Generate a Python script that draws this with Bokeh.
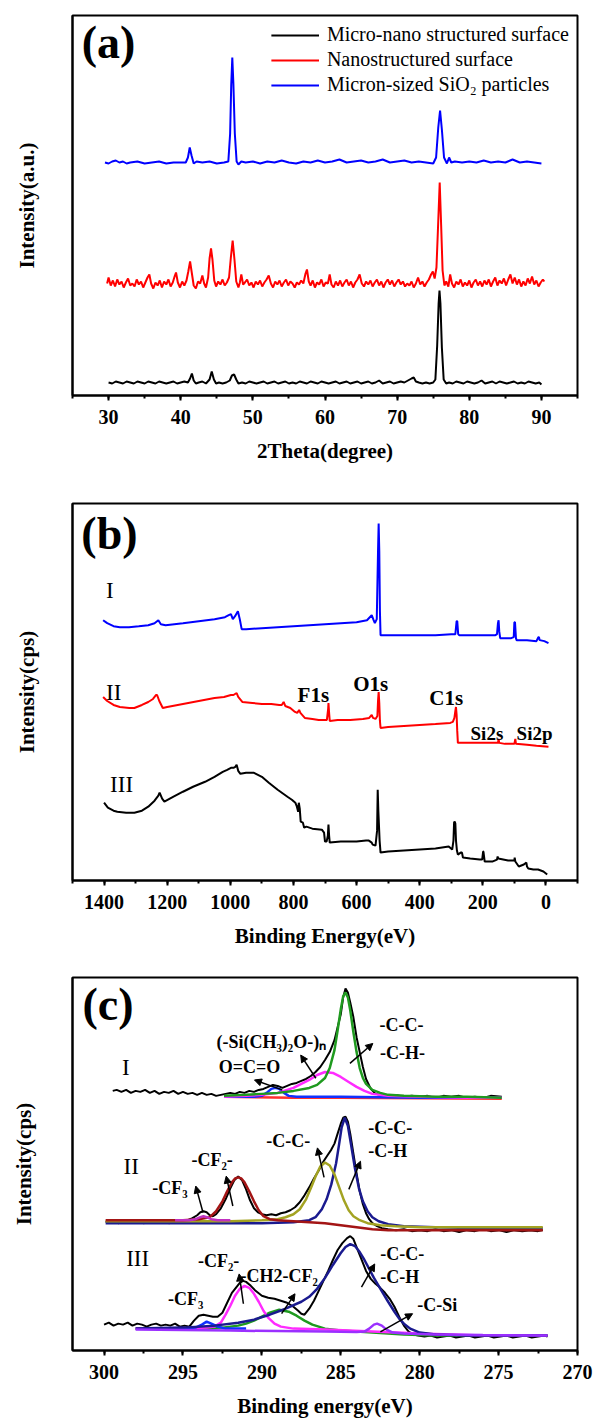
from bokeh.plotting import figure
from bokeh.layouts import column
from bokeh.models import Range1d, SingleIntervalTicker, FixedTicker, Label, Arrow, NormalHead
from bokeh.embed import file_html
from bokeh.resources import INLINE

FONT = "Liberation Serif"
AXFONT = "'Liberation Serif'"

# ---------------- Panel (a): XRD ----------------
a_series_names = ["Micro-nano structured surface", "Nanostructured surface", "Micron-sized SiO\u2082 particles"]

a_black = [(30.0,13),(30.5,12),(31.0,14),(31.5,13),(32.0,12),(32.5,14),(33.0,13),(33.5,12),(34.0,14),(34.5,13),(35.0,12),(35.5,14),(36.0,13),(36.5,12),(37.0,14),(37.5,13),(38.0,12),(38.5,13),(39.0,14),(39.5,12),(40.0,13),(40.5,14),(41.0,13),(41.3,17),(41.55,22),(41.8,15),(42.1,12),(42.5,13),(43.0,14),(43.5,12),(44.0,16),(44.3,24),(44.6,16),(44.9,12),(45.3,13),(45.8,12),(46.3,13),(46.8,15),(47.1,20),(47.4,21),(47.7,16),(48.0,12),(48.5,13),(49.0,12),(49.5,14),(50.0,13),(50.5,12),(51.0,13),(51.5,14),(52.0,12),(52.5,13),(53.0,14),(53.5,12),(54.0,13),(54.5,14),(55.0,12),(55.5,13),(56.0,12),(56.5,14),(57.0,13),(57.5,12),(58.0,14),(58.5,13),(59.0,12),(59.5,14),(60.0,13),(60.5,12),(61.0,13),(61.5,14),(62.0,12),(62.5,13),(63.0,14),(63.5,12),(64.0,13),(64.5,14),(65.0,12),(65.5,13),(66.0,14),(66.5,12),(67.0,13),(67.5,15),(68.0,12),(68.5,13),(69.0,14),(69.5,12),(70.0,13),(70.5,14),(71.0,13),(71.5,15),(72.0,17),(72.3,18),(72.6,14),(73.0,13),(73.5,12),(74.0,13),(74.5,12),(75.0,13),(75.3,16),(75.55,50),(75.75,92),(75.87,105),(76.0,92),(76.2,48),(76.45,16),(76.8,12),(77.2,13),(77.7,12),(78.2,14),(78.7,13),(79.2,12),(79.7,14),(80.2,13),(80.7,12),(81.2,13),(81.7,15),(82.2,12),(82.7,13),(83.2,14),(83.7,12),(84.2,14),(84.7,13),(85.2,12),(85.7,13),(86.2,14),(86.7,12),(87.2,13),(87.7,12),(88.2,14),(88.7,13),(89.2,12),(89.7,13),(90.0,11)]

a_red = [(29.8,112),(30.0,118),(30.3,110),(30.6,115),(30.9,109),(31.2,116),(31.5,111),(31.8,114),(32.1,108),(32.4,113),(32.7,117),(33.0,110),(33.3,112),(33.6,109),(33.9,116),(34.2,111),(34.5,114),(34.8,108),(35.1,113),(35.4,118),(35.65,121),(35.9,112),(36.2,107),(36.5,113),(36.8,110),(37.1,115),(37.4,108),(37.7,114),(38.0,111),(38.3,116),(38.6,109),(38.9,113),(39.15,119),(39.35,123),(39.6,113),(39.9,108),(40.2,114),(40.5,110),(40.8,115),(41.05,124),(41.3,134),(41.55,122),(41.8,110),(42.1,107),(42.4,114),(42.7,112),(43.0,120),(43.25,112),(43.5,108),(43.8,118),(44.0,137),(44.2,147),(44.4,136),(44.65,115),(44.9,109),(45.2,114),(45.5,111),(45.8,116),(46.1,110),(46.4,113),(46.7,118),(46.95,138),(47.2,155),(47.45,136),(47.7,114),(48.0,108),(48.2,113),(48.4,121),(48.65,111),(48.9,113),(49.2,116),(49.5,110),(49.8,113),(50.1,108),(50.4,114),(50.7,111),(51.0,115),(51.3,109),(51.6,113),(51.9,116),(52.2,120),(52.5,112),(52.8,108),(53.1,114),(53.4,111),(53.7,115),(54.0,109),(54.3,113),(54.6,116),(54.9,110),(55.2,114),(55.5,112),(55.8,108),(56.1,113),(56.4,111),(56.7,115),(57.0,112),(57.3,122),(57.5,126),(57.75,114),(58.0,110),(58.3,115),(58.6,108),(58.9,113),(59.2,111),(59.5,116),(59.8,109),(60.1,113),(60.4,112),(60.65,121),(60.9,111),(61.2,108),(61.5,114),(61.8,110),(62.1,115),(62.4,109),(62.7,113),(63.0,116),(63.3,110),(63.6,114),(63.9,108),(64.2,113),(64.5,116),(64.8,121),(65.1,112),(65.4,109),(65.7,114),(66.0,111),(66.3,115),(66.6,109),(66.9,113),(67.2,116),(67.5,110),(67.8,114),(68.1,108),(68.4,113),(68.7,116),(69.0,111),(69.3,115),(69.6,109),(69.9,113),(70.2,116),(70.5,111),(70.8,114),(71.1,109),(71.4,112),(71.7,110),(72.0,114),(72.3,108),(72.6,112),(72.9,118),(73.2,111),(73.5,114),(73.8,109),(74.1,113),(74.4,116),(74.7,121),(74.95,124),(75.2,117),(75.45,128),(75.65,165),(75.9,213),(76.1,170),(76.3,125),(76.55,110),(76.8,114),(77.1,109),(77.35,121),(77.6,112),(77.9,108),(78.2,114),(78.5,111),(78.8,116),(79.1,109),(79.4,113),(79.7,110),(80.0,115),(80.3,108),(80.6,113),(80.9,116),(81.2,110),(81.5,114),(81.8,109),(82.1,115),(82.4,111),(82.7,116),(83.0,109),(83.3,114),(83.6,118),(83.9,110),(84.2,115),(84.5,112),(84.8,117),(85.1,110),(85.4,116),(85.7,121),(86.0,112),(86.3,118),(86.6,111),(86.9,116),(87.2,109),(87.5,114),(87.8,110),(88.1,117),(88.4,112),(88.7,119),(89.0,111),(89.3,115),(89.6,109),(89.9,113),(90.2,116),(90.4,114)]

a_blue = [(29.5,233),(30.0,232),(30.5,234),(31.0,235),(31.5,233),(32.0,234),(32.5,232),(33.0,233),(34.0,234),(35.0,232),(36.0,233),(37.0,234),(38.0,232),(39.0,233),(40.0,233),(40.7,233),(41.0,238),(41.25,248),(41.5,240),(41.8,232),(42.2,234),(43.0,233),(44.0,234),(45.0,232),(46.0,233),(46.6,234),(46.85,262),(47.0,310),(47.15,338),(47.3,312),(47.5,262),(47.75,234),(48.0,231),(48.4,234),(49,233),(50,234),(51,232),(52,234),(53,233),(54,235),(55,233),(56,232),(57,234),(58,233),(59,235),(60,233),(61,234),(62,236),(63,233),(64,234),(65,235),(66,233),(67,234),(68,236),(69,233),(70,234),(71,235),(72,233),(73,234),(74,233),(75,232),(75.4,238),(75.7,268),(75.95,285),(76.2,266),(76.5,238),(76.9,232),(77.2,238),(77.5,233),(78,234),(79,233),(80,234),(81,233),(82,235),(83,233),(84,234),(85,233),(86,236),(87,233),(88,234),(89,233),(90,232)]

# ---------------- Panel (b): XPS survey ----------------
b_I = [(1403,261),(1390,258),(1370,255),(1350,254),(1321,254),(1290,255),(1260,256),(1240,258),(1228,261),(1220,257),(1205,256),(1150,258),(1100,260),(1050,262),(1017,264),(1005,266),(998,267),(992,262),(985,265),(976,270),(970,262),(964,252),(950,252),(900,253),(850,254),(800,255),(750,256),(700,257),(650,258),(600,259),(567,261),(552,266),(546,261),(542,258),(536,262),(532,330),(530,358),(528,330),(526,270),(524,246),(510,246),(450,246),(400,246),(350,246),(300,247),(287,247),(283,260),(281,260),(278,247),(275,246),(220,246),(160,246),(155,247),(152,258),(150,261),(148,250),(145,243),(130,243),(110,243),(102,244),(100,259),(98,259),(95,243),(93,241),(60,241),(30,240),(24,244),(22,244),(20,241),(5,240),(-8,238)]

b_II = [(1403,184),(1390,180),(1370,176),(1350,174),(1320,173),(1304,173),(1280,176),(1260,179),(1245,182),(1235,186),(1232,186),(1225,180),(1214,173),(1200,174),(1150,177),(1100,180),(1050,183),(1020,184),(998,186),(990,186),(980,188),(975,184),(962,179),(930,178),(900,177),(870,177),(845,176),(837,176),(831,179),(826,175),(810,173),(795,169),(788,168),(782,171),(778,168),(764,163),(740,162),(720,161),(700,161),(694,161),(690,172),(689,178),(687,168),(685,160),(660,161),(620,161),(580,162),(560,163),(552,166),(548,163),(540,162),(534,165),(532,180),(530,189),(528,178),(526,160),(524,153),(500,154),(450,155),(400,156),(350,157),(303,158),(295,159),(290,163),(287,170),(285,174),(283,166),(281,150),(279,138),(270,138),(220,138),(160,138),(152,138),(150,142),(148,138),(130,137),(100,137),(97,142),(95,137),(60,136),(30,135),(-8,134)]

b_III = [(1400,78),(1388,73),(1370,70),(1358,69),(1330,68),(1304,68),(1280,70),(1260,74),(1240,80),(1228,85),(1224,88),(1216,82),(1209,79),(1180,84),(1150,89),(1118,94),(1080,99),(1050,104),(1024,109),(1010,111),(998,113),(990,113),(984,114),(980,116),(975,110),(968,107),(950,108),(925,108),(900,104),(878,98),(850,91),(819,84),(805,81),(794,78),(789,74),(785,69),(783,78),(780,72),(777,59),(770,58),(766,53),(759,54),(740,52),(710,51),(703,48),(700,39),(695,39),(691,45),(689,56),(687,45),(685,38),(650,39),(600,39),(570,40),(561,40),(552,38),(549,36),(540,35),(535,50),(533,91),(531,70),(527,40),(524,28),(500,29),(450,30),(400,31),(350,32),(308,34),(297,31),(293,40),(291,58),(289,59),(287,57),(285,40),(282,30),(279,26),(270,28),(266,28),(263,23),(240,22),(210,21),(202,21),(199,29),(198,29),(194,19),(170,19),(155,21),(153,24),(151,22),(120,20),(100,20),(99,23),(97,19),(86,14),(70,16),(62,18),(60,14),(56,12),(40,11),(25,11),(8,9),(-4,6)]

# ---------------- Panel (c): C1s high resolution ----------------
c_I_raw = [(299.45,261),(299.2,262),(298.9,260),(298.6,262),(298.3,259),(298.0,261),(297.7,260),(297.4,262),(297.1,259),(296.8,261),(296.5,258),(296.2,260),(295.9,259),(295.6,261),(295.3,258),(295.0,260),(294.7,258),(294.4,259),(294.1,257),(293.8,259),(293.5,257),(293.2,258),(292.9,256),(292.6,257),(292.3,258),(292.0,259),(291.7,258),(291.4,260),(291.1,259),(290.8,261),(290.5,260),(290.2,262),(289.9,263),(289.6,265),(289.3,267),(289.0,266),(288.7,264),(288.4,266),(288.1,268),(287.8,269),(287.5,271),(287.2,273),(286.9,276),(286.6,280),(286.3,285),(286.0,292),(285.7,300),(285.4,312),(285.2,325),(285.0,338),(284.85,355),(284.7,364),(284.55,360),(284.4,350),(284.2,335),(284.0,315),(283.8,300),(283.6,285),(283.4,273),(283.1,263),(282.8,258),(282.5,257),(282.0,256),(281.5,257),(281.0,255),(280.5,256),(280.0,255),(279.5,256),(279.0,254),(278.5,256),(278.0,255),(277.5,256),(277.0,254),(276.5,255),(276.0,254),(275.5,256),(274.8,255)]
c_I_green = [(292.4,256),(291.0,257),(290.0,258),(289.0,259),(288.0,261),(287.0,264),(286.5,267),(286.0,274),(285.7,284),(285.4,302),(285.2,322),(285.0,343),(284.85,356),(284.7,360),(284.55,355),(284.4,342),(284.2,320),(284.0,300),(283.8,284),(283.6,274),(283.4,268),(283.0,262),(282.5,259),(282.0,257),(281.0,256),(279.0,255),(277.0,255),(274.8,254)]
c_I_magenta = [(292.4,255),(291.0,256),(290.0,257),(289.0,259),(288.0,264),(287.5,268),(287.0,272),(286.5,277),(286.0,280),(285.5,279),(285.0,275),(284.5,270),(284.0,265),(283.5,261),(283.0,258),(282.0,256),(280.0,255),(277.0,254),(274.8,254)]
c_I_blue = [(292.4,255),(290.5,255),(290.0,256),(289.7,259),(289.4,263),(289.15,264),(288.9,263),(288.6,259),(288.3,256),(287.8,255),(285.0,255),(280.0,254),(274.8,254)]
c_I_red = [(292.4,255),(288.0,254),(285.0,254),(274.8,253)]

c_II_raw = [(299.9,129),(299.5,131),(299.1,128),(298.7,130),(298.3,129),(297.9,131),(297.5,128),(297.1,130),(296.7,129),(296.3,131),(295.9,128),(295.5,130),(295.1,129),(294.7,131),(294.4,133),(294.1,136),(293.9,139),(293.7,140),(293.5,139),(293.3,136),(293.1,135),(292.9,137),(292.6,143),(292.3,152),(292.0,163),(291.75,171),(291.5,175),(291.25,171),(291.0,162),(290.75,151),(290.5,143),(290.25,139),(290.0,137),(289.7,136),(289.4,137),(289.1,136),(288.8,138),(288.5,139),(288.2,141),(287.9,144),(287.6,149),(287.3,156),(287.0,164),(286.7,173),(286.4,181),(286.1,190),(285.85,196),(285.6,202),(285.4,208),(285.2,218),(285.0,228),(284.85,234),(284.7,235),(284.55,230),(284.4,218),(284.2,198),(284.0,178),(283.8,160),(283.6,147),(283.4,138),(283.2,132),(283.0,128),(282.7,125),(282.4,123),(282.0,122),(281.5,121),(281.0,122),(280.5,120),(280.0,121),(279.5,120),(279.0,122),(278.5,120),(278.0,121),(277.5,119),(277.0,121),(276.5,120),(276.0,122),(275.5,120),(275.0,121),(274.5,119),(274.0,121),(273.5,120),(273.0,121),(272.5,120),(272.2,121)]
c_II_navy = [(299.9,128),(294.0,128),(290.0,128),(288.0,129),(287.0,131),(286.6,134),(286.2,142),(285.9,152),(285.6,167),(285.3,188),(285.1,208),(284.95,224),(284.75,234),(284.55,226),(284.35,207),(284.1,183),(283.85,163),(283.6,150),(283.3,140),(283.0,134),(282.6,130),(282.0,127),(281.0,125),(279.0,124),(276.0,123),(272.2,123)]
c_II_olive = [(299.9,130),(297.0,130),(294.0,130),(292.0,130),(290.0,131),(289.0,132),(288.5,134),(288.0,137),(287.6,142),(287.2,152),(286.9,163),(286.6,175),(286.3,185),(286.0,189),(285.7,186),(285.4,177),(285.1,164),(284.8,151),(284.5,141),(284.2,135),(283.8,131),(283.3,128),(282.5,126),(281.5,125),(280.0,124),(277.0,124),(272.2,124)]
c_II_darkred = [(299.9,131),(297.0,131),(295.0,131),(294.0,132),(293.3,134),(292.9,140),(292.5,150),(292.2,160),(291.9,169),(291.7,173),(291.5,174),(291.3,173),(291.1,169),(290.8,160),(290.5,150),(290.2,141),(289.9,135),(289.5,132),(289.0,131),(288.0,130),(287.0,129),(286.0,128),(285.0,126),(284.0,124),(283.0,122),(282.0,121),(280.0,121),(276.0,121),(272.2,121)]
c_II_magenta = [(295.5,131),(294.6,131),(294.2,132),(293.9,134),(293.7,135),(293.5,134),(293.2,132),(292.8,131),(292.0,131)]

c_III_raw = [(300.0,26),(299.7,28),(299.4,25),(299.1,27),(298.8,26),(298.5,28),(298.2,25),(297.9,27),(297.6,26),(297.3,24),(297.0,26),(296.7,27),(296.4,25),(296.1,26),(295.8,25),(295.5,27),(295.2,24),(294.9,25),(294.6,24),(294.3,30),(294.0,35),(293.7,36),(293.4,35),(293.1,34),(292.8,34),(292.5,38),(292.2,48),(291.9,58),(291.6,64),(291.4,68),(291.2,70),(291.0,69),(290.7,65),(290.4,60),(290.0,55),(289.6,53),(289.2,52),(288.8,50),(288.4,48),(288.0,44),(287.7,40),(287.5,37),(287.3,36),(287.0,42),(286.7,50),(286.4,60),(286.1,70),(285.8,80),(285.5,91),(285.2,101),(284.9,108),(284.6,113),(284.4,115),(284.2,112),(284.0,104),(283.7,92),(283.4,80),(283.1,72),(282.8,67),(282.5,63),(282.2,58),(281.9,52),(281.6,44),(281.3,34),(281.0,25),(280.7,19),(280.4,16),(280.1,15),(279.7,14),(279.3,15),(278.9,13),(278.5,14),(278.1,15),(277.7,13),(277.3,14),(276.9,15),(276.5,13),(276.1,14),(275.7,15),(275.3,13),(274.9,14),(274.5,15),(274.1,13),(273.7,14),(273.3,15),(272.9,13),(272.5,14),(272.1,15),(271.9,14)]
c_III_green = [(298.0,22),(294.0,22),(292.5,23),(291.5,25),(291.0,27),(290.5,30),(290.0,34),(289.5,38),(288.9,41),(288.3,39),(287.8,35),(287.3,30),(286.8,26),(286.0,22),(285.0,20),(283.0,18),(281.0,16),(279.0,15),(275.0,15),(271.9,15)]
c_III_magenta = [(298.0,22),(295.0,22),(293.5,23),(293.0,24),(292.6,28),(292.3,36),(292.0,45),(291.7,55),(291.4,62),(291.1,65),(290.8,63),(290.5,57),(290.2,49),(289.9,40),(289.6,33),(289.2,27),(288.8,24),(288.0,22),(286.0,21),(283.0,19),(280.0,17),(276.0,15),(271.9,15)]
c_III_blue = [(296.0,22),(295.0,22),(294.2,23),(293.8,26),(293.5,29),(293.2,27),(292.8,24),(292.3,22),(291.0,22)]
c_III_navy = [(298.0,22),(295.0,23),(293.0,25),(291.5,28),(290.5,31),(289.5,36),(288.5,42),(287.5,49),(287.0,54),(286.5,62),(286.0,73),(285.5,86),(285.0,98),(284.7,104),(284.4,107),(284.1,105),(283.8,99),(283.5,91),(283.2,82),(282.9,73),(282.6,65),(282.3,57),(282.0,49),(281.6,39),(281.3,32),(281.0,27),(280.6,22),(280.0,18),(279.0,16),(277.0,15),(274.0,15),(271.9,15)]
c_III_purple = [(298.0,21),(295.0,20.5),(292.0,20),(289.0,19.5),(286.0,19),(284.0,18.5),(283.5,19),(283.2,22),(282.9,26),(282.7,27),(282.4,25),(282.1,21),(281.7,18),(281.0,17),(279.0,16),(276.0,15.5),(271.9,15)]

# annotation texts (text, x, y) in data units
panel_tags = [("(a)", 26.28, 353.5), ("(b)", 1472, 347.5), ("(c)", 301.37, 348)]
b_labels_roman = [("I", 1393.7, 291), ("II", 1393.7, 189), ("III", 1381, 96)]
b_labels_peaks = [("F1s", 737, 186, "21px"), ("O1s", 555, 197, "21px"), ("C1s", 316, 183, "21px"),
                  ("Si2s", 187, 147, "19px"), ("Si2p", 36, 147, "19px")]
c_labels_roman = [("I", 298.87, 285), ("II", 298.77, 185), ("III", 298.6, 92)]
c_labels = [("O=C=O", 290.78, 285.3), ("(-Si(CH\u2083)\u2082O-)\u2099", 289.4, 310.3),
            ("-C-C-", 281.15, 327), ("-C-H-", 281.09, 298.7),
            ("-C-C-", 288.33, 210.3), ("-C-C-", 281.86, 223.7), ("-C-H", 282.03, 200.3),
            ("-CF\u2082-", 293.15, 192), ("-CF\u2083", 295.83, 163.7),
            ("-CF\u2082-", 292.74, 90.3), ("-CF\u2083", 294.82, 52),
            ("-C-C-", 281.11, 97), ("-C-H", 281.27, 73.7), ("-C-Si", 278.88, 46)]
c_label_left = [("-CH2-CF\u2082", 291.35, 75.3)]
c_arrows = [(288.71, 262, 290.47, 272), (286.58, 273.7, 287.54, 297), (284.42, 288.7, 282.97, 308.7),
            (286.06, 174, 286.48, 203.7), (284.49, 162, 283.75, 190.3), (291.84, 145.3, 292.26, 175.3),
            (293.73, 138.7, 294.19, 165.3),
            (291.17, 47, 291.44, 77), (288.75, 37, 287.9, 57), (283.69, 63.7, 282.85, 87), (282.49, 18.7, 280.45, 37)]


def xy(pts):
    return [p[0] for p in pts], [p[1] for p in pts]


def make_fig(width, height, xr, yr, borders, xlabel, interval, ylabel, ystandoff):
    l, r, t, b = borders
    p = figure(width=width, height=height, x_range=xr, y_range=yr, output_backend="svg",
               toolbar_location=None, min_border_left=l, min_border_right=r,
               min_border_top=t, min_border_bottom=b)
    p.background_fill_color = "white"
    p.border_fill_color = "white"
    p.xgrid.visible = False
    p.ygrid.visible = False
    p.outline_line_color = "black"
    p.outline_line_width = 2
    p.outline_line_alpha = 1.0
    xa = p.xaxis[0]
    xa.ticker = SingleIntervalTicker(interval=interval, num_minor_ticks=2)
    xa.axis_line_width = 2
    xa.major_tick_line_width = 2
    xa.minor_tick_line_width = 2
    xa.major_tick_in = 0
    xa.major_tick_out = 5
    xa.minor_tick_in = 0
    xa.minor_tick_out = 3
    xa.major_label_standoff = 9
    xa.major_label_text_font = AXFONT
    xa.major_label_text_font_style = "bold"
    xa.major_label_text_font_size = "20px"
    xa.major_label_text_color = "black"
    xa.axis_label = xlabel
    xa.axis_label_text_font = AXFONT
    xa.axis_label_text_font_style = "bold"
    xa.axis_label_text_font_size = "21px"
    xa.axis_label_text_color = "black"
    xa.axis_label_standoff = 12
    ya = p.yaxis[0]
    ya.ticker = FixedTicker(ticks=[])
    ya.major_tick_out = 0
    ya.major_tick_in = 0
    ya.minor_tick_out = 0
    ya.minor_tick_in = 0
    ya.axis_line_width = 2
    ya.major_label_text_font_size = "0px"
    ya.axis_label = ylabel
    ya.axis_label_text_font = AXFONT
    ya.axis_label_text_font_style = "bold"
    ya.axis_label_text_font_size = "21px"
    ya.axis_label_text_color = "black"
    ya.axis_label_standoff = ystandoff
    return p


def add_label(p, text, x, y, size, style="bold", align="center", baseline="middle"):
    p.add_layout(Label(x=x, y=y, text=text, text_font=FONT, text_font_size=size,
                       text_font_style=style, text_align=align, text_baseline=baseline,
                       text_color="black"))


# ---- figure a ----
pa = make_fig(594, 470, Range1d(25, 95), Range1d(0, 380), (67, 17, 15, 75),
              "2Theta(degree)", 10, "Intensity(a.u.)", 34)
x, y = xy(a_black)
pa.line(x, y, line_color="black", line_width=2, legend_label=a_series_names[0])
x, y = xy(a_red)
pa.line(x, y, line_color="#ff0000", line_width=2, legend_label=a_series_names[1])
x, y = xy(a_blue)
pa.line(x, y, line_color="#0000ff", line_width=2, legend_label=a_series_names[2])
lg = pa.legend[0]
lg.location = "top_right"
lg.border_line_color = None
lg.background_fill_alpha = 0
lg.label_text_font = FONT
lg.label_text_font_size = "20px"
lg.label_text_color = "black"
lg.glyph_width = 48
lg.glyph_height = 22
lg.label_height = 22
lg.label_standoff = 8
lg.spacing = 2
lg.padding = 0
lg.margin = 8
t, xx, yy = panel_tags[0]
add_label(pa, t, xx, yy, "46px", align="left")

# ---- figure b ----
pb = make_fig(594, 480, Range1d(1500, -100), Range1d(0, 378), (69, 16, 33, 69),
              "Binding Energy(eV)", 200, "Intensity(cps)", 34)
for pts, col in ((b_I, "#0000ff"), (b_II, "#ff0000"), (b_III, "black")):
    x, y = xy(pts)
    pb.line(x, y, line_color=col, line_width=2)
t, xx, yy = panel_tags[1]
add_label(pb, t, xx, yy, "46px", align="left")
for t, xx, yy in b_labels_roman:
    add_label(pb, t, xx, yy, "23px", style="normal", align="left")
for t, xx, yy, sz in b_labels_peaks:
    add_label(pb, t, xx, yy, sz)

# ---- figure c ----
pc = make_fig(594, 470, Range1d(302, 270), Range1d(0, 375), (72, 12, 27, 68),
              "Binding energy(eV)", 5, "Intensity(cps)", 37)
GREEN = "#1f9a1f"
MAG = "#ff2bff"
BLUE = "#1030ff"
NAVY = "#1a1a8f"
OLIVE = "#a3a322"
DRED = "#a31515"
PURP = "#9b30ff"
for pts, col, lw in ((c_I_raw, "black", 2), (c_I_red, "#ff3030", 2.5), (c_I_blue, BLUE, 2.5),
                     (c_I_magenta, MAG, 2.5), (c_I_green, GREEN, 2.5),
                     (c_II_raw, "black", 2), (c_II_navy, NAVY, 2.5), (c_II_olive, OLIVE, 2.5),
                     (c_II_darkred, DRED, 2.5), (c_II_magenta, "#c030c0", 2.5),
                     (c_III_raw, "black", 2), (c_III_green, GREEN, 2.5), (c_III_magenta, MAG, 2.5),
                     (c_III_blue, BLUE, 2.5), (c_III_navy, NAVY, 2.5), (c_III_purple, PURP, 2.5)):
    x, y = xy(pts)
    pc.line(x, y, line_color=col, line_width=lw)
t, xx, yy = panel_tags[2]
add_label(pc, t, xx, yy, "46px", align="left")
for t, xx, yy in c_labels_roman:
    add_label(pc, t, xx, yy, "23px", style="normal", align="left")
for t, xx, yy in c_labels:
    add_label(pc, t, xx, yy, "18px")
for t, xx, yy in c_label_left:
    add_label(pc, t, xx, yy, "18px", align="left")
for x0, y0, x1, y1 in c_arrows:
    pc.add_layout(Arrow(end=NormalHead(size=7, fill_color="black", line_color="black", line_width=1),
                        x_start=x0, y_start=y0, x_end=x1, y_end=y1,
                        line_color="black", line_width=1.5))

layout = column(pa, pb, pc, spacing=0)
open("out.html", "w").write(file_html(layout, INLINE))
